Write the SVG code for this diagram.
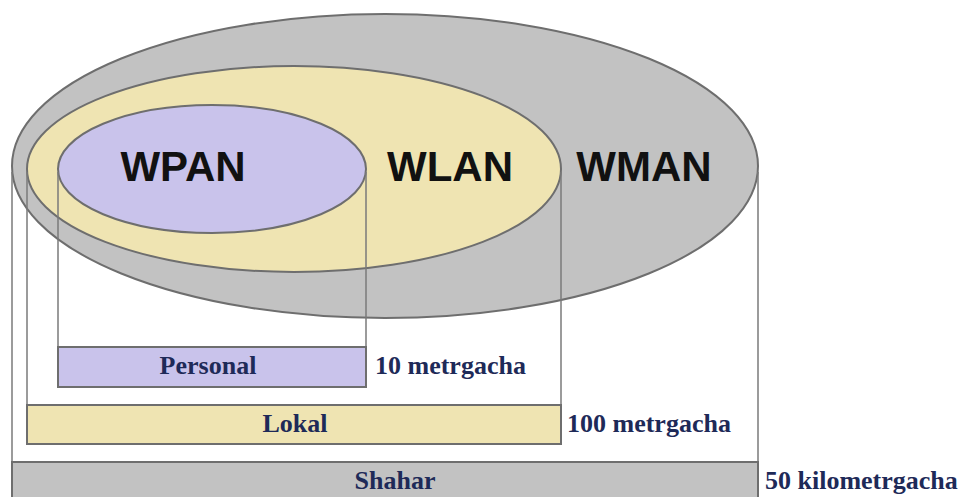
<svg xmlns="http://www.w3.org/2000/svg" width="968" height="497" viewBox="0 0 968 497">
<style>
.ol{stroke:#6e6e6e;stroke-width:2}
.vl{stroke:#7a7a7a;stroke-width:1.5;fill:none}
.big{font-family:"Liberation Sans",Arial,sans-serif;font-weight:bold;font-size:42px;fill:#111}
.lab{font-family:"Liberation Serif","Times New Roman",serif;font-weight:bold;font-size:26px;fill:#1e2a58}
</style>
<rect width="968" height="497" fill="#fff"/>
<g id="wman"><ellipse cx="385" cy="166" rx="373" ry="152" fill="#c2c2c2" class="ol"/></g>
<g id="wlan"><ellipse cx="294" cy="169" rx="267" ry="103" fill="#efe4b2" class="ol"/></g>
<g id="wpan"><ellipse cx="212" cy="169" rx="154" ry="64" fill="#c9c3eb" class="ol"/></g>
<g id="connectors">
<line class="vl" x1="12" y1="172" x2="12" y2="497"/>
<line class="vl" x1="27" y1="172" x2="27" y2="405"/>
<line class="vl" x1="58" y1="172" x2="58" y2="347"/>
<line class="vl" x1="366" y1="172" x2="366" y2="347"/>
<line class="vl" x1="561" y1="172" x2="561" y2="405"/>
<line class="vl" x1="758" y1="172" x2="758" y2="462"/>
</g>
<text class="big" x="183" y="181" text-anchor="middle">WPAN</text>
<text class="big" x="450" y="181" text-anchor="middle">WLAN</text>
<text class="big" x="644" y="181" text-anchor="middle">WMAN</text>
<g id="personal"><rect x="58" y="347" width="308" height="40" fill="#c9c3eb" class="ol"/>
<text class="lab" x="208" y="374" text-anchor="middle">Personal</text></g>
<text class="lab" x="375" y="374">10 metrgacha</text>
<g id="lokal"><rect x="27" y="405" width="534" height="39" fill="#efe4b2" class="ol"/>
<text class="lab" x="295" y="432" text-anchor="middle">Lokal</text></g>
<text class="lab" x="567" y="432">100 metrgacha</text>
<g id="shahar"><rect x="12" y="462" width="746" height="40" fill="#c2c2c2" class="ol"/>
<text class="lab" x="395" y="489" text-anchor="middle">Shahar</text></g>
<text class="lab" x="765" y="489">50 kilometrgacha</text>
</svg>
